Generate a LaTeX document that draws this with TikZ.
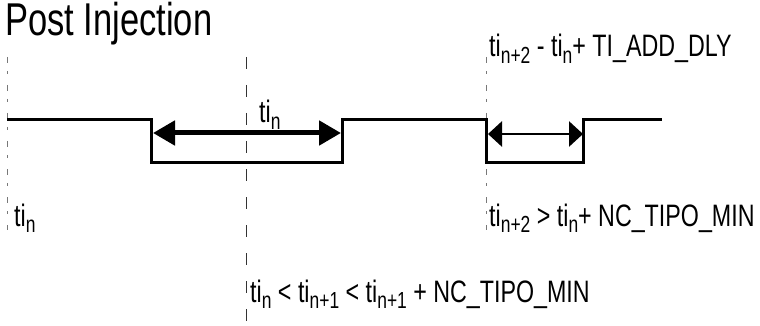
\documentclass[tikz,border=0pt]{standalone}
\usepackage{fontspec}
\setmainfont{Liberation Sans}[FakeStretch=0.75]
\usepackage{graphicx}
\usepackage{tikz}
\usetikzlibrary{arrows.meta}
\definecolor{guidegray}{RGB}{120,120,120}
\newcommand{\lowsub}[1]{\raisebox{-0.22em}{\scalebox{0.75}{#1}}}

\begin{document}
\begin{tikzpicture}[x=1pt, y=-1pt, every node/.style={inner sep=0pt, anchor=base west, font=\fontsize{31}{33}\selectfont}]
    \useasboundingbox (0,0) rectangle (760,326);
    \tikzset{
        signal/.style={line width=3pt, line join=miter},
        widearrow/.style={line width=5pt, {Triangle[length=22pt,width=24pt]}-{Triangle[length=22pt,width=24pt]}},
        slimarrow/.style={line width=2.8pt, {Triangle[length=14pt,width=25pt]}-{Triangle[length=14pt,width=25pt]}},
        marker/.style={line width=1pt, guidegray, dash pattern=on 6pt off 8pt on 3pt off 11pt},
        midline/.style={line width=1pt, black!80, dash pattern=on 12pt off 16pt}
    }

    % guide lines
    \draw[marker] (7,57) -- (7,230);
    \draw[marker] (486,57) -- (486,230);
    \draw[midline] (246,57) -- (246,326);

    % injection signal
    \draw[signal] (7,120) -- (151,120) -- (151,162) -- (342,162) -- (342,120) -- (486,120)
        -- (486,162) -- (583,162) -- (583,120) -- (662,120);

    \coordinate (mainL) at (153,133);
    \coordinate (mainR) at (341,133);
    \coordinate (postL) at (488,134);
    \coordinate (postR) at (583,134);
    \draw[widearrow] (mainL) -- (mainR);
    \draw[slimarrow] (postL) -- (postR);

    % labels
    \node[font=\fontsize{46}{48}\selectfont] (title) at (5,36) {Post Injection};
    \node (dlylbl) at (489,57) {ti\lowsub{n+2} - ti\lowsub{n}+ TI\_ADD\_DLY};
    \node (pulselbl) at (259,123) {ti\lowsub{n}};
    \node (startlbl) at (14,226) {ti\lowsub{n}};
    \node (minlbl) at (489,226) {ti\lowsub{n+2} > ti\lowsub{n}+ NC\_TIPO\_MIN};
    \node (gaplbl) at (250,302) {ti\lowsub{n} < ti\lowsub{n+1} < ti\lowsub{n+1} + NC\_TIPO\_MIN};
\end{tikzpicture}
\end{document}
